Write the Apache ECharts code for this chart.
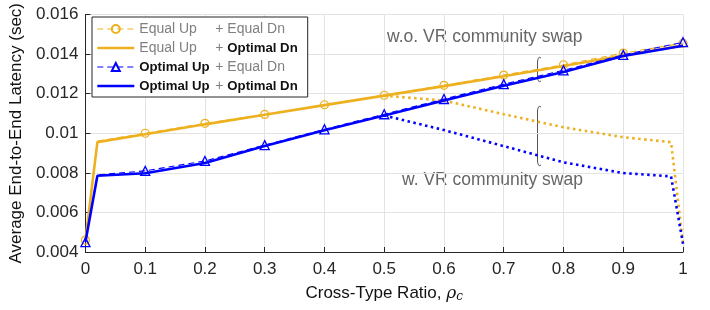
<!DOCTYPE html>
<html><head><meta charset="utf-8">
<script src="https://cdn.jsdelivr.net/npm/echarts@6/dist/echarts.min.js"></script>
<style>html,body{margin:0;padding:0;background:#fff}#c{width:710px;height:310px}</style>
</head><body><div id="c"></div>
<script>
// ---- data ----
const xMain = [0, 0.02, 0.1, 0.2, 0.3, 0.4, 0.5, 0.6, 0.7, 0.8, 0.9, 1.0];
const eqUpEqDn  = [0.0046, 0.0096, 0.0100, 0.0105, 0.01095, 0.01144, 0.01192, 0.01242, 0.01294, 0.01346, 0.01405, 0.01455];
const eqUpOptDn = [0.0046, 0.00955, 0.00995, 0.01045, 0.01093, 0.01142, 0.0119, 0.01238, 0.01288, 0.0134, 0.01393, 0.01443];
const optUpEqDn = [0.0045, 0.0079, 0.0081, 0.0086, 0.0094, 0.0102, 0.01096, 0.01173, 0.01248, 0.01318, 0.01396, 0.0146];
const optUpOptDn= [0.0045, 0.00785, 0.00798, 0.0085, 0.00935, 0.01015, 0.0109, 0.01165, 0.0124, 0.0131, 0.0139, 0.01442];
const xSwap = [0.5, 0.6, 0.7, 0.8, 0.9, 0.98, 1.0];
const eqUpSwap  = [0.0119, 0.01165, 0.01096, 0.01030, 0.0098, 0.00955, 0.00446];
const optUpSwap = [0.0109, 0.01016, 0.00935, 0.00853, 0.00799, 0.00782, 0.00442];
const names = ['Equal Up + Equal Dn', 'Equal Up + Optimal Dn', 'Optimal Up + Equal Dn', 'Optimal Up + Optimal Dn'];
const xTicks = [0, 0.1, 0.2, 0.3, 0.4, 0.5, 0.6, 0.7, 0.8, 0.9, 1];
const yTicks = [0.004, 0.006, 0.008, 0.01, 0.012, 0.014, 0.016];

const ORANGE = '#EDB120', BLUE = '#0000FF', NONE = 'rgba(0,0,0,0)';
function pairs(xs, ys, marker) {
  return xs.map((x, i) => {
    const onTick = Math.abs(x * 10 - Math.round(x * 10)) < 1e-9;
    const d = { value: [x, ys[i]] };
    if (marker && !onTick) d.symbol = 'none';
    return d;
  });
}
const fmt = v => String(parseFloat(v.toFixed(4)));
const FONT = 'Liberation Sans, Arial, Helvetica, sans-serif';
const LF = 14, LB = 13.2;

const legendParts = {
  'Equal Up + Equal Dn': '{g|Equal Up}{p|+ Equal Dn}',
  'Equal Up + Optimal Dn': '{g|Equal Up}{p|+ }{b|Optimal Dn}',
  'Optimal Up + Equal Dn': '{gb|Optimal Up}{p|+ Equal Dn}',
  'Optimal Up + Optimal Dn': '{gb|Optimal Up}{p|+ }{b|Optimal Dn}'
};

function bracket(x, y0, y1) {
  const st = { stroke: '#555', lineWidth: 1, fill: null };
  return [
    { type: 'bezierCurve', shape: { x1: x + 3.5, y1: y0 + 1, cpx1: x + 0.5, cpy1: y0 - 1.5, x2: x, y2: y0 + 5 }, style: st },
    { type: 'line', shape: { x1: x, y1: y0 + 5, x2: x, y2: y1 - 5 }, style: st },
    { type: 'bezierCurve', shape: { x1: x, y1: y1 - 5, cpx1: x + 0.5, cpy1: y1 + 1.5, x2: x + 3.5, y2: y1 - 1 }, style: st }
  ];
}

const chart = echarts.init(document.getElementById('c'), null, { renderer: 'canvas' });
chart.setOption({
  animation: false,
  textStyle: { fontFamily: FONT },
  grid: { left: 84, right: 27, top: 8, bottom: 58 },
  xAxis: {
    type: 'value', min: 0, max: 1, interval: 0.1,
    name: 'Cross-Type Ratio, {i|ρ}{s|c}', nameLocation: 'middle', nameGap: 32,
    nameTextStyle: { fontSize: 17, color: '#111', fontFamily: FONT,
      rich: { i: { fontStyle: 'italic', fontFamily: 'DejaVu Serif, serif', fontSize: 17, color: '#111' },
              s: { fontStyle: 'italic', fontFamily: 'DejaVu Serif, serif', fontSize: 12, color: '#111', verticalAlign: 'bottom', padding: [7, 0, 0, 0] } } },
    axisLine: { show: true, onZero: false, lineStyle: { color: '#262626', width: 1 } },
    axisTick: { show: true, inside: true, length: 5, lineStyle: { color: '#262626' } },
    axisLabel: { fontSize: 17, color: '#262626', margin: 9, formatter: fmt },
    splitLine: { show: true, lineStyle: { color: '#e3e3e3', width: 1 } }
  },
  yAxis: {
    type: 'value', min: 0.004, max: 0.016, interval: 0.002,
    name: 'Average End-to-End Latency (sec)', nameLocation: 'middle', nameGap: 55,
    nameTextStyle: { fontSize: 17, color: '#111' },
    axisLine: { show: true, onZero: false, lineStyle: { color: '#262626', width: 1 } },
    axisTick: { show: true, inside: true, length: 5, lineStyle: { color: '#262626' } },
    axisLabel: { fontSize: 17, color: '#262626', margin: 7, formatter: fmt },
    splitLine: { show: true, lineStyle: { color: '#e3e3e3', width: 1 } }
  },
  legend: {
    orient: 'vertical', left: 92, top: 17,
    data: [
      { name: names[0], lineStyle: { width: 1.1 } },
      { name: names[1], lineStyle: { width: 2.6 } },
      { name: names[2], lineStyle: { width: 1.1 } },
      { name: names[3], lineStyle: { width: 2.6 } }
    ],
    itemWidth: 37, itemHeight: 10, itemGap: 5,
    padding: [5, 10, 4, 4],
    borderColor: '#262626', borderWidth: 1, backgroundColor: '#fff',
    formatter: n => legendParts[n],
    textStyle: {
      fontSize: LF, color: '#7f7f7f',
      rich: {
        g: { fontSize: LF, color: '#808080', width: 76 },
        gb: { fontSize: LB, color: '#111', fontWeight: 'bold', width: 76 },
        p: { fontSize: LF, color: '#808080' },
        b: { fontSize: LB, color: '#111', fontWeight: 'bold' }
      }
    }
  },
  series: [
    { name: names[1], type: 'line', data: pairs(xMain, eqUpOptDn, false), showSymbol: false, symbol: 'none',
      lineStyle: { color: ORANGE, width: 2.6 }, itemStyle: { color: NONE, borderColor: NONE }, z: 2 },
    { name: names[0], type: 'line', data: pairs(xMain, eqUpEqDn, true), symbol: 'circle', symbolSize: 8,
      lineStyle: { color: ORANGE, width: 1.1, type: [6, 4] },
      itemStyle: { color: NONE, borderColor: ORANGE, borderWidth: 1.2 }, z: 3 },
    { name: names[3], type: 'line', data: pairs(xMain, optUpOptDn, false), showSymbol: false, symbol: 'none',
      lineStyle: { color: BLUE, width: 2.6 }, itemStyle: { color: NONE, borderColor: NONE }, z: 4 },
    { name: names[2], type: 'line', data: pairs(xMain, optUpEqDn, true), symbol: 'triangle', symbolSize: 9,
      lineStyle: { color: BLUE, width: 1.1, type: [6, 4] },
      itemStyle: { color: NONE, borderColor: BLUE, borderWidth: 1.3 }, z: 5 },
    { name: 'swapEq', type: 'line', data: pairs(xSwap, eqUpSwap, false), symbol: 'none',
      lineStyle: { color: ORANGE, width: 2.6, type: [2.5, 3.5] }, z: 2 },
    { name: 'swapOpt', type: 'line', data: pairs(xSwap, optUpSwap, false), symbol: 'none',
      lineStyle: { color: BLUE, width: 2.6, type: [2.5, 3.5] }, z: 4 }
  ],
  graphic: [
    { type: 'text', left: 387, top: 28, style: { text: 'w.o. VR community swap', fontSize: 17.5, fill: '#666', fontFamily: FONT } },
    { type: 'text', left: 402, top: 171, style: { text: 'w. VR community swap', fontSize: 17.5, fill: '#666', fontFamily: FONT } }
  ].concat(bracket(537.5, 57, 82), bracket(537.5, 106, 166))
});
</script></body></html>
